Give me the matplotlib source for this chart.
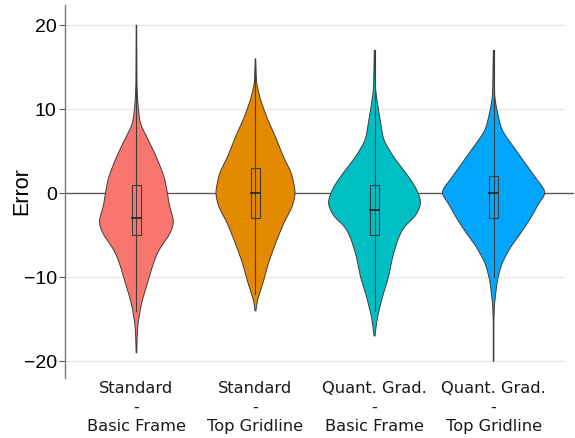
import numpy as np
import matplotlib
matplotlib.use("Agg")
import matplotlib.pyplot as plt

# groups and colours
groups = ["Standard\n-\nBasic Frame", "Standard\n-\nTop Gridline",
          "Quant. Grad.\n-\nBasic Frame", "Quant. Grad.\n-\nTop Gridline"]
colors = ["#F8766D", "#E38A00", "#00BFC4", "#03A6FF"]

# violin outlines: error value -> density (relative half width)
red_y = [20, 13.0, 11.0, 8.3, 6.3, 4.3, 1.9, 0, -1.6, -3.4, -4.8, -6.8, -8.3, -10.7, -13.1, -15.5, -17, -19]
red_d = [0.2, 0.5, 1.2, 3.5, 12, 20, 28, 31, 33, 38, 34, 22, 17, 11, 5, 1.5, 0.7, 0.3]

orange_y = [16, 13.1, 11.1, 9.1, 6.7, 4.3, 2.4, 0.75, 0, -1.6, -3.6, -6.0, -8.3, -10.7, -12.7, -14]
orange_d = [0.2, 1.0, 5, 11, 20, 28, 36, 39, 40, 37, 28, 20, 13, 7.5, 2, 0.3]

teal_y = [17, 12.3, 9.9, 6.3, 4.3, 2.3, 0.75, -0.4, -1.2, -2.8, -4.0, -5.6, -7.6, -10, -12.3, -14.7, -17]
teal_d = [0.2, 1.0, 4, 9, 19, 32, 41, 45, 47, 41, 29, 23, 18, 14, 8, 3, 0.3]

blue_y = [17, 11.5, 9.9, 7.5, 5.5, 3.5, 1.5, 0, -0.8, -2.8, -4.8, -6.4, -8.4, -10.4, -13.1, -15, -20]
blue_d = [0.2, 1.0, 3.3, 8, 20, 32, 44, 54, 47, 38, 27, 17, 8, 3.7, 1.0, 0.3, 0.3]

profiles = [(red_y, red_d), (orange_y, orange_d), (teal_y, teal_d), (blue_y, blue_d)]

# box summaries
q1 = [-5, -3, -5, -3]
median = [-3, 0, -2, 0]
q3 = [1, 3, 1, 2]
whisk_lo = [-14, -12, -14, -10]
whisk_hi = [20, 16, 17, 17]

fig = plt.figure(figsize=(5.75, 4.38), dpi=100)
ax = fig.add_axes([65 / 575, 60 / 438, 500 / 575, 373 / 438])

edge = "#3d3d3d"
dscale = 1 / 119.0   # density units -> x data units
kern = np.exp(-0.5 * (np.arange(-24, 25) / 8.0) ** 2)
kern /= kern.sum()

for i, (yy, dd) in enumerate(profiles):
    yy = np.array(yy, dtype=float)
    dd = np.array(dd, dtype=float)
    order = np.argsort(yy)
    grid = np.linspace(yy.min(), yy.max(), 600)
    w = np.interp(grid, yy[order], dd[order])
    pad = len(kern) // 2
    w = np.convolve(np.pad(w, pad, mode="edge"), kern, mode="valid")
    w = w * dscale
    xs = np.concatenate([i - w, (i + w)[::-1]])
    ys = np.concatenate([grid, grid[::-1]])
    ax.fill(xs, ys, facecolor=colors[i], edgecolor=edge, linewidth=0.7, zorder=3)
    # whisker line
    ax.plot([i, i], [whisk_lo[i], whisk_hi[i]], color=edge, linewidth=0.8, zorder=4)
    # box
    bw = 0.038
    ax.add_patch(plt.Rectangle((i - bw, q1[i]), 2 * bw, q3[i] - q1[i],
                               facecolor="none", edgecolor=edge, linewidth=0.8, zorder=5))
    ax.plot([i - bw, i + bw], [median[i], median[i]], color="#2a2a2a", linewidth=1.3, zorder=6)

# grid and zero line
for g in [-20, -10, 10, 20]:
    ax.axhline(g, color="#e6e6e6", linewidth=0.9, zorder=1)
ax.axhline(0, xmin=0, xmax=1.016, color="#5a5a5a", linewidth=1.0, zorder=2, clip_on=False)

ax.set_xlim(-0.6, 3.6)
ax.set_ylim(-22.0, 22.4)
ax.set_yticks([-20, -10, 0, 10, 20])
ax.set_yticklabels(["\u221220", "\u221210", "0", "10", "20"], family="Liberation Sans", fontsize=14)
ax.set_xticks(range(4))
ax.set_xticklabels(groups, family="DejaVu Sans", fontsize=11.7, color="#1a1a1a", linespacing=1.35)
ax.tick_params(axis="x", length=0, pad=2)
ax.tick_params(axis="y", length=4, width=0.8, color="#555555", pad=2)
ax.set_ylabel("Error", family="Liberation Sans", fontsize=15.5)
ax.yaxis.set_label_coords(-0.066, 0.5)

for s in ["top", "right", "bottom"]:
    ax.spines[s].set_visible(False)
ax.spines["left"].set_color("#777777")
ax.spines["left"].set_linewidth(1.0)

fig.savefig("out.png", dpi=100)
